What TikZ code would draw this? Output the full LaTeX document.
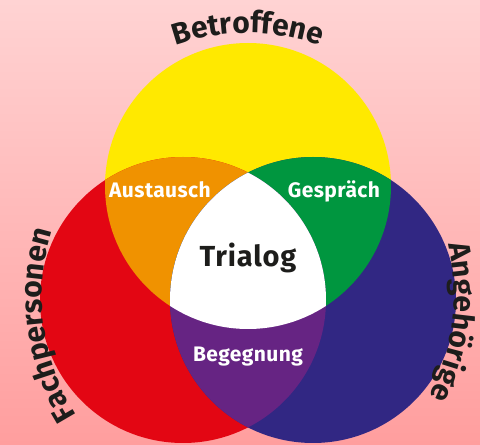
\documentclass[tikz,border=0pt]{standalone}
\usepackage{fontspec}
\setmainfont{Fira Sans}
\newfontfamily\arcfam[LetterSpace=8]{Fira Sans}
\newfontfamily\midfam[LetterSpace=3]{Fira Sans}
\newfontfamily\inrfam[LetterSpace=2]{Fira Sans}
\usetikzlibrary{decorations.text}
\definecolor{bgtop}{HTML}{FFD3D3}
\definecolor{bgbot}{HTML}{FF9E9E}
\definecolor{cyel}{HTML}{FFE900}
\definecolor{cred}{HTML}{E30613}
\definecolor{cblu}{HTML}{312783}
\definecolor{cora}{HTML}{F09200}
\definecolor{cgrn}{HTML}{00963F}
\definecolor{cpur}{HTML}{662483}
\definecolor{ctxt}{HTML}{1D1D1B}
\newcommand{\arcfont}{\arcfam\bfseries\fontsize{30}{34}\selectfont\color{ctxt}}
\begin{document}
\begin{tikzpicture}[x=1pt,y=1pt,
  inlbl/.style={text=white,font=\inrfam\bfseries\fontsize{21}{25}\selectfont,anchor=base,inner sep=0pt},
  mainlbl/.style={text=ctxt,font=\midfam\bfseries\fontsize{29}{33}\selectfont,anchor=base,inner sep=0pt},
  arclbl/.style={decorate,decoration={text along path,text align=center,text={#1}}}]
\useasboundingbox (0,0) rectangle (480,445);
\shade[top color=bgtop,bottom color=bgbot] (0,0) rectangle (480,445);
\coordinate (cy) at (248,259);
\coordinate (cr) at (183,145);
\coordinate (cb) at (313,145);
\fill[cyel] (cy) circle[radius=143pt];
\fill[cred] (cr) circle[radius=143pt];
\fill[cblu] (cb) circle[radius=143pt];
\begin{scope}
  \clip (cy) circle[radius=143pt];
  \fill[cora] (cr) circle[radius=143pt];
  \fill[cgrn] (cb) circle[radius=143pt];
\end{scope}
\begin{scope}
  \clip (cr) circle[radius=143pt];
  \fill[cpur] (cb) circle[radius=143pt];
\end{scope}
\begin{scope}
  \clip (cy) circle[radius=143pt];
  \clip (cr) circle[radius=143pt];
  \fill[white] (cb) circle[radius=143pt];
\end{scope}
\node[inlbl] (aus) at (160,247) {Austausch};
\node[inlbl] (ges) at (334,247) {Gespräch};
\node[mainlbl] (tri) at (248,178) {Trialog};
\node[inlbl] (beg) at (248,83) {Begegnung};
\path[arclbl={|\arcfont|Betroffene}] (248,193) ++(135:219pt) arc[start angle=135,end angle=45,radius=219pt];
\path[arclbl={|\arcfont|Fachpersonen}] (265,148) ++(240:223pt) arc[start angle=240,end angle=135,radius=223pt];
\path[arclbl={|\arcfont|Angehörige}] (231,150) ++(40:223pt) arc[start angle=40,end angle=-54,radius=223pt];
\end{tikzpicture}
\end{document}
